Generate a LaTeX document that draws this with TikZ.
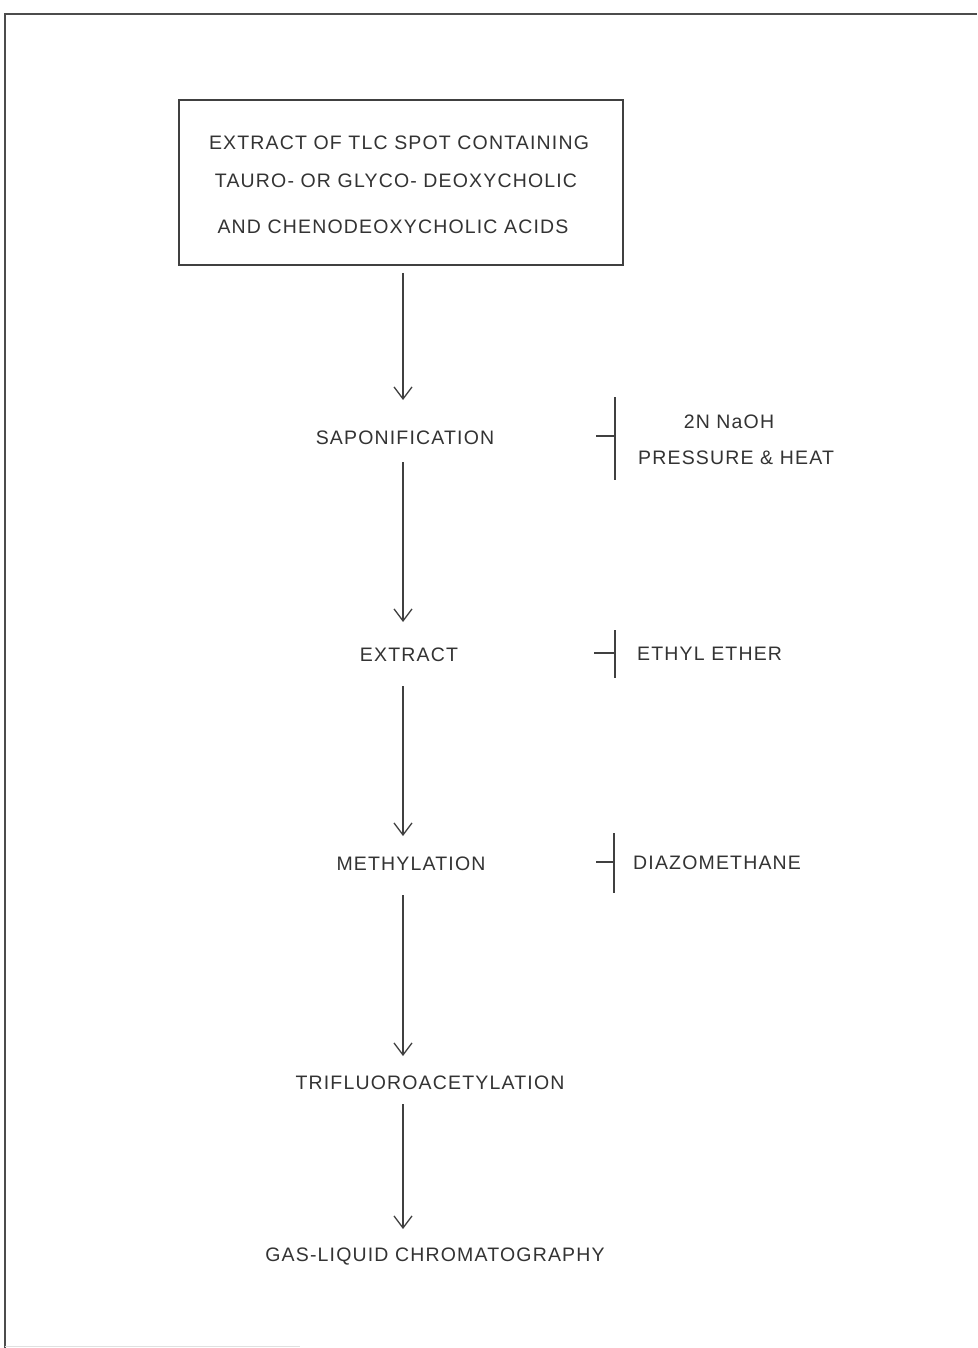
\documentclass[tikz,border=0pt]{standalone}
\usepackage{fontspec}
\setmainfont{Liberation Sans}[LetterSpace=6]
\usetikzlibrary{arrows.meta}
\begin{document}
\begin{tikzpicture}[x=1pt,y=-1pt,
  lbl/.style={inner sep=0pt, text height=14pt, text depth=0pt, font=\fontsize{19.5}{22}\selectfont, text=black!80},
  arr/.style={line width=1.3pt, draw=black!75, -{Straight Barb[length=12pt,width=18pt,line width=1.3pt]}},
  bar/.style={line width=1.3pt, draw=black!75}]
\useasboundingbox (0,0) rectangle (977,1348);
\fill[white] (0,0) rectangle (977,1348);
\draw[line width=2pt, black!70] (5,1348) -- (5,14) -- (977,14);
\draw[line width=1pt, black!12] (5,1346) -- (300,1346);

\coordinate (ax) at (403,0);

\node[draw=black!75, line width=1.6pt, minimum width=444pt, minimum height=165pt, inner sep=0pt] (box) at (401,182.5) {};
\node[lbl] (t1) at (399,143) {EXTRACT OF TLC SPOT CONTAINING};
\node[lbl] (t2) at (396,181) {TAURO- OR GLYCO- DEOXYCHOLIC};
\node[lbl] (t3) at (393,227) {AND CHENODEOXYCHOLIC ACIDS};

\node[lbl] (sap) at (405,437) {SAPONIFICATION};
\node[lbl] (ext) at (409,654) {EXTRACT};
\node[lbl] (met) at (411,863) {METHYLATION};
\node[lbl] (tri) at (430,1082) {TRIFLUOROACETYLATION};
\node[lbl] (gas) at (435,1254) {GAS-LIQUID CHROMATOGRAPHY};

\draw[arr] ([yshift=-7pt]box.south -| ax) -- ([yshift=37pt]sap.center -| ax);
\draw[arr] ([yshift=-25pt]sap.center -| ax) -- ([yshift=32pt]ext.center -| ax);
\draw[arr] ([yshift=-32pt]ext.center -| ax) -- ([yshift=27pt]met.center -| ax);
\draw[arr] ([yshift=-32pt]met.center -| ax) -- ([yshift=26pt]tri.center -| ax);
\draw[arr] ([yshift=-22pt]tri.center -| ax) -- ([yshift=25pt]gas.center -| ax);

% reagent brackets
\draw[bar] (615,397) -- (615,480);
\draw[bar] (596,436) -- (615,436);
\node[lbl] (naoh) at (729,421) {2N NaOH};
\node[lbl, anchor=west] (heat) at (638,457) {PRESSURE \& HEAT};

\draw[bar] (615,630) -- (615,678);
\draw[bar] (594,653) -- (615,653);
\node[lbl, anchor=west] (ether) at (637,653) {ETHYL ETHER};

\draw[bar] (614,833) -- (614,893);
\draw[bar] (596,862) -- (614,862);
\node[lbl, anchor=west] (diazo) at (633,862) {DIAZOMETHANE};
\end{tikzpicture}
\end{document}
